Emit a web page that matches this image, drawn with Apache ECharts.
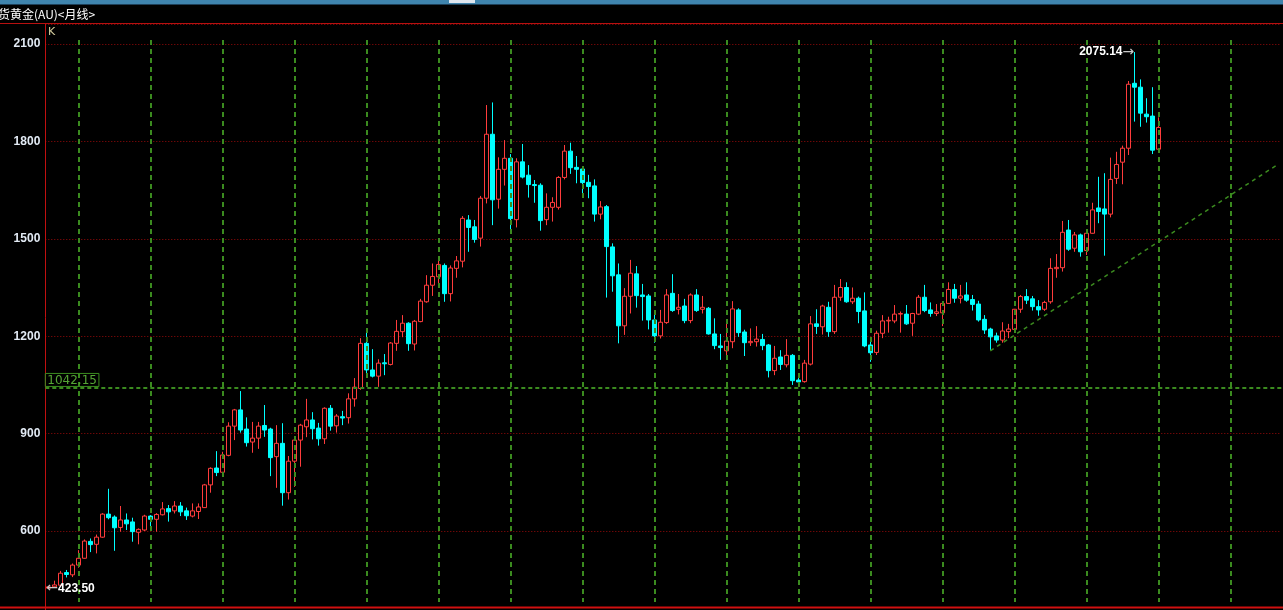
<!DOCTYPE html>
<html>
<head>
<meta charset="utf-8">
<script src="https://cdn.jsdelivr.net/npm/echarts@6/dist/echarts.min.js"></script>
<style>
html,body{margin:0;padding:0;background:#000;}
#c{width:1283px;height:610px;}
</style>
</head>
<body>
<div id="c"></div>
<script>
// ---- data: monthly candles, first month 2005-07 ----
const startYear = 2005, startMonth = 7;
const totalSlots = 206;           // category slots on the axis (data + empty space on the right)
// rows: [open, close, low, high]
const ohlc = [
  // 2005 (Jul-Dec)
  [424,428,423.5,431],[428,434,425,447],[433,470,431,477],[472,466,457,480],[465,495,458,500],[495,516,487,541],
  // 2006
  [516,569,515,574],[568,558,535,577],[559,581,531,589],[581,652,579,655],[652,641,636,730],[643,610,539,648],
  [611,634,598,677],[634,622,603,654],[628,598,567,641],[596,605,559,608],[603,646,600,650],[646,636,608,649],
  // 2007
  [636,651,598,655],[650,668,648,689],[669,659,629,680],[662,677,654,692],[677,659,646,689],[662,647,634,672],
  [646,662,642,685],[660,674,637,685],[672,742,671,745],[742,793,718,796],[794,780,769,846],[781,834,778,844],
  // 2008
  [833,923,830,935],[923,973,880,976],[973,911,903,1031],[914,872,860,950],[874,886,841,936],[886,923,853,936],
  [925,911,890,988],[914,826,769,918],[829,870,733,926],[870,718,678,932],[718,815,697,831],[815,880,736,890],
  // 2009
  [880,926,798,930],[921,942,889,1007],[942,915,882,966],[917,884,863,933],[884,978,868,981],[978,923,909,988],
  [924,954,903,960],[952,948,926,970],[949,1007,931,1024],[1007,1043,983,1071],[1039,1178,1035,1194],[1178,1096,1075,1224],
  // 2010
  [1096,1077,1073,1160],[1077,1117,1044,1129],[1118,1115,1080,1145],[1113,1179,1110,1182],[1178,1215,1155,1250],[1214,1240,1197,1265],
  [1240,1177,1155,1243],[1176,1246,1156,1250],[1245,1308,1243,1315],[1306,1357,1303,1388],[1357,1384,1324,1424],[1383,1421,1358,1432],
  // 2011
  [1418,1331,1306,1424],[1331,1410,1307,1418],[1409,1432,1380,1447],[1431,1563,1412,1570],[1558,1535,1460,1573],[1537,1498,1488,1558],
  [1502,1625,1476,1632],[1625,1822,1609,1912],[1822,1620,1542,1920],[1622,1714,1593,1751],[1714,1748,1664,1804],[1748,1562,1519,1761],
  // 2012
  [1559,1737,1535,1748],[1737,1690,1686,1792],[1696,1667,1627,1727],[1667,1664,1611,1681],[1665,1556,1525,1671],[1559,1597,1542,1640],
  [1597,1612,1553,1628],[1597,1689,1590,1693],[1689,1770,1683,1789],[1770,1719,1700,1796],[1720,1714,1671,1755],[1715,1673,1632,1722],
  // 2013
  [1674,1661,1625,1697],[1663,1576,1553,1683],[1576,1598,1560,1616],[1599,1476,1319,1604],[1475,1386,1337,1486],[1389,1232,1178,1424],
  [1232,1323,1204,1348],[1323,1394,1270,1435],[1392,1325,1288,1416],[1327,1322,1248,1361],[1324,1250,1221,1330],[1250,1201,1180,1268],
  // 2014
  [1201,1243,1193,1281],[1242,1327,1238,1345],[1332,1279,1275,1391],[1283,1289,1267,1330],[1293,1248,1240,1315],[1248,1327,1240,1332],
  [1327,1279,1275,1345],[1283,1289,1270,1324],[1286,1207,1205,1290],[1207,1171,1160,1255],[1170,1165,1127,1207],[1155,1185,1139,1238],
  // 2015
  [1183,1284,1163,1308],[1281,1211,1198,1286],[1213,1180,1139,1220],[1180,1184,1170,1224],[1183,1191,1168,1231],[1190,1171,1157,1207],
  [1173,1094,1073,1176],[1094,1132,1080,1170],[1136,1113,1096,1157],[1112,1141,1104,1191],[1141,1063,1050,1145],[1065,1059,1045,1086],
  // 2016
  [1060,1117,1057,1127],[1114,1238,1110,1262],[1238,1230,1207,1283],[1229,1293,1205,1297],[1289,1214,1198,1306],[1214,1320,1207,1358],
  [1320,1350,1309,1376],[1350,1306,1303,1366],[1306,1317,1299,1350],[1317,1276,1240,1322],[1278,1170,1166,1335],[1173,1149,1121,1186],
  // 2017
  [1150,1209,1142,1217],[1209,1247,1194,1265],[1247,1249,1211,1260],[1247,1268,1240,1296],[1268,1270,1211,1276],[1268,1238,1235,1296],
  [1240,1270,1201,1272],[1268,1320,1265,1327],[1320,1279,1274,1358],[1281,1270,1260,1304],[1270,1275,1262,1299],[1272,1301,1231,1306],
  // 2018
  [1301,1344,1300,1366],[1344,1317,1303,1361],[1317,1324,1301,1358],[1327,1311,1306,1366],[1313,1298,1279,1327],[1299,1250,1245,1309],
  [1252,1219,1207,1265],[1222,1198,1158,1226],[1201,1188,1180,1211],[1188,1216,1180,1243],[1214,1222,1194,1238],[1221,1283,1220,1284],
  // 2019
  [1283,1322,1272,1327],[1322,1311,1299,1345],[1315,1291,1279,1324],[1291,1281,1263,1311],[1283,1304,1278,1309],[1306,1409,1300,1440],
  [1408,1412,1380,1453],[1411,1520,1399,1555],[1527,1468,1463,1558],[1471,1512,1460,1521],[1512,1460,1445,1516],[1464,1517,1450,1525],
  // 2020
  [1517,1589,1516,1611],[1595,1584,1548,1691],[1592,1576,1448,1702],[1576,1683,1566,1750],[1686,1729,1669,1768],[1736,1779,1668,1787],
  [1779,1976,1758,1986],[1979,1967,1861,2075.14],[1967,1887,1845,1991],[1884,1876,1858,1933],[1878,1773,1761,1967],[1776,1843,1773,1874]
];
const yTicks = [600, 900, 1200, 1500, 1800, 2100];
const supportLevel = 1042.15;
const yearMarkMonths = ['2005-12','2006-12','2007-12','2008-12','2009-12','2010-12','2011-12','2012-12','2013-12',
  '2014-12','2015-12','2016-12','2017-12','2018-12','2019-12','2020-12','2021-12'];
const trendStart = ['2018-08', 1155];
const trendEnd = ['2022-08', 1730];
const titleText = '货黄金(AU)<月线>';

// ---- build categories ----
const months = [];
for (let i = 0; i < totalSlots; i++) {
  const m0 = startMonth - 1 + i;
  const y = startYear + Math.floor(m0 / 12);
  const m = (m0 % 12) + 1;
  months.push(y + '-' + String(m).padStart(2, '0'));
}
const candleData = ohlc.map(r => [r[0], r[1], r[2], r[3]]);

const GREEN = '#3b8b1f';
const vLines = yearMarkMonths.map(mo => [
  {coord: [mo, 2112.3], lineStyle: {color: GREEN, type: [5, 4], width: 2}, label: {show: false}},
  {coord: [mo, 381.3]}
]);

const chart = echarts.init(document.getElementById('c'), null, {renderer: 'canvas'});
chart.setOption({
  animation: false,
  backgroundColor: '#000',
  grid: {left: 45.3, top: 24, width: 1236, height: 604.4, containLabel: false, outerBoundsMode: 'none'},
  xAxis: {
    type: 'category', data: months, boundaryGap: true,
    axisLine: {show: false}, axisTick: {show: false}, axisLabel: {show: false}, splitLine: {show: false}
  },
  yAxis: {
    type: 'value', min: 300, max: 2161.6, interval: 300,
    axisLine: {show: true, lineStyle: {color: '#c01010', width: 1}},
    axisTick: {show: false},
    axisLabel: {
      margin: 5, color: '#e2eaf4', fontSize: 12, fontWeight: 'bold', fontFamily: 'Liberation Sans, Arial',
      formatter: v => (yTicks.indexOf(v) >= 0 ? String(v) : '')
    },
    splitLine: {show: true, lineStyle: {color: '#9a0a0a', type: [1, 2], width: 1}}
  },
  graphic: [
    {type: 'rect', shape: {x: 0, y: 0, width: 1283, height: 4}, style: {fill: '#3f84ad'}, z: 100},
    {type: 'rect', shape: {x: 0, y: 4, width: 1283, height: 1}, style: {fill: '#1d3f58'}, z: 100},
    {type: 'rect', shape: {x: 449, y: 0, width: 26, height: 3}, style: {fill: '#dfe6ee'}, z: 101},
    {type: 'text', x: -2, y: 8, style: {text: titleText, fill: '#ffffff', font: '12px "Noto Sans CJK SC", sans-serif'}, z: 100},
    {type: 'line', shape: {x1: 0, y1: 23.5, x2: 1283, y2: 23.5}, style: {stroke: '#b81010', lineWidth: 1}, z: 100},
    {type: 'line', shape: {x1: 0, y1: 607.5, x2: 1283, y2: 607.5}, style: {stroke: '#d01010', lineWidth: 2}, z: 100},
    {type: 'text', x: 48, y: 27, style: {text: 'K', fill: '#d8d0a0', font: '11px "DejaVu Sans", sans-serif'}, z: 100}
  ],
  series: [{
    type: 'candlestick',
    data: candleData,
    barWidth: 5,
    itemStyle: {color: '#000000', color0: '#00ffff', borderColor: '#ff3c3c', borderColor0: '#00ffff', borderWidth: 1},
    markLine: {
      silent: true, symbol: ['none', 'none'], animation: false,
      data: vLines.concat([
        {yAxis: supportLevel, lineStyle: {color: GREEN, type: [4, 3], width: 2},
          label: {show: true, position: 'insideStartTop', formatter: String(supportLevel), color: '#55a535',
            fontSize: 12, fontFamily: 'DejaVu Sans, sans-serif', borderColor: GREEN, borderWidth: 1,
            padding: [1, 2, 0, 2], distance: [0, 1]}},
        [{coord: trendStart, lineStyle: {color: GREEN, type: [4, 4], width: 1.5}, label: {show: false}}, {coord: trendEnd}]
      ])
    },
    markPoint: {
      symbol: 'circle', symbolSize: 0.1, animation: false, silent: true,
      label: {rich: {
        v: {color: '#ffffff', fontWeight: 'bold', fontSize: 12, fontFamily: 'Liberation Sans, Arial'},
        a: {color: '#c8c8c8', fontSize: 14, fontFamily: 'DejaVu Sans'}
      }},
      data: [
        {type: 'max', valueDim: 'highest', label: {position: 'left', distance: 0, formatter: p => '{v|' + p.value.toFixed(2) + '}{a|→}'}},
        {type: 'min', valueDim: 'lowest', label: {position: 'right', distance: -2, formatter: p => '{a|←}{v|' + p.value.toFixed(2) + '}'}}
      ]
    }
  }]
});
</script>
</body>
</html>
